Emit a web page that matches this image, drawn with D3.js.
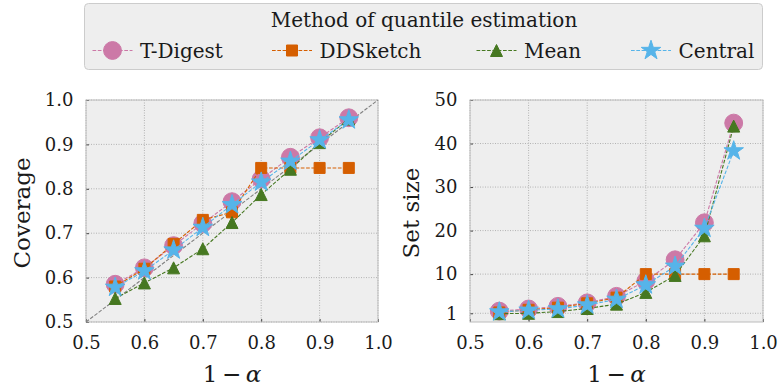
<!DOCTYPE html>
<html>
<head>
<meta charset="utf-8">
<script src="https://cdn.jsdelivr.net/npm/d3@7"></script>
<style>
  body { margin: 0; background: #fff; }
  text { font-family: "DejaVu Serif", serif; fill: #1a1a1a; }
</style>
</head>
<body>
<script>
// data
var alphas = [0.55, 0.6, 0.65, 0.7, 0.75, 0.8, 0.85, 0.9, 0.95];
var methods = ["T-Digest", "DDSketch", "Mean", "Central"];

var coverageTDigest = [0.585, 0.622, 0.672, 0.722, 0.771, 0.822, 0.871, 0.915, 0.960];
var coverageDDSketch = [0.580, 0.620, 0.676, 0.730, 0.747, 0.847, 0.847, 0.847, 0.847];
var coverageMean = [0.553, 0.588, 0.622, 0.665, 0.724, 0.787, 0.844, 0.904, 0.957];
var coverageCentral = [0.578, 0.615, 0.662, 0.713, 0.764, 0.815, 0.862, 0.910, 0.955];

var sizeTDigest = [1.5, 2.0, 2.6, 3.4, 4.9, 8.4, 13.3, 21.8, 44.7];
var sizeDDSketch = [1.2, 1.8, 2.3, 3.3, 4.6, 10.0, 10.0, 10.0, 10.0];
var sizeMean = [0.9, 1.0, 1.4, 2.1, 3.1, 5.8, 9.7, 18.8, 44.0];
var sizeCentral = [1.3, 1.7, 2.0, 2.9, 4.2, 7.5, 11.8, 20.5, 38.3];

var xTicks = [0.5, 0.6, 0.7, 0.8, 0.9, 1.0];
var covTicks = [0.5, 0.6, 0.7, 0.8, 0.9, 1.0];
var sizeTicks = [1, 10, 20, 30, 40, 50];

// matplotlib style "^" marker: as wide as it is tall
var symbolTriUp = {
  draw: function(context, size) {
    var h = Math.sqrt(size / 2);
    context.moveTo(0, -h);
    context.lineTo(h, h);
    context.lineTo(-h, h);
    context.closePath();
  }
};

var colors = ["#CC79A7", "#D55E00", "#467821", "#56B4E9"];
var symbols = [d3.symbolCircle, d3.symbolSquare, symbolTriUp, d3.symbolStar];
var symSizes = [250, 121, 72, 118];
var dash = "3.7,1.6";

var svg = d3.select("body").append("svg")
    .attr("width", 780)
    .attr("height", 389);

function drawPanel(left, right, yDomain, yTicks, yFmt, series, yLabel, labelX, diag) {
  var top = 100, bottom = 322;
  var x = d3.scaleLinear().domain([0.5, 1.0]).range([left, right]);
  var y = d3.scaleLinear().domain(yDomain).range([bottom, top]);

  svg.append("rect")
    .attr("x", left).attr("y", top)
    .attr("width", right - left).attr("height", bottom - top)
    .attr("fill", "#eeeeee");

  // grid
  svg.append("g").selectAll("line").data(xTicks).enter().append("line")
    .attr("x1", d => x(d)).attr("x2", d => x(d))
    .attr("y1", top).attr("y2", bottom)
    .attr("stroke", "#b2b2b2").attr("stroke-dasharray", "1,1.5");
  svg.append("g").selectAll("line").data(yTicks).enter().append("line")
    .attr("x1", left).attr("x2", right)
    .attr("y1", d => y(d)).attr("y2", d => y(d))
    .attr("stroke", "#b2b2b2").attr("stroke-dasharray", "1,1.5");

  // axes
  var xAxis = svg.append("g").attr("transform", "translate(0," + bottom + ")")
    .call(d3.axisBottom(x).tickValues(xTicks).tickFormat(d3.format(".1f")).tickSizeInner(-3).tickSizeOuter(0).tickPadding(14));
  var yAxis = svg.append("g").attr("transform", "translate(" + left + ",0)")
    .call(d3.axisLeft(y).tickValues(yTicks).tickFormat(yFmt).tickSizeInner(-3).tickSizeOuter(0).tickPadding(12.5));
  [xAxis, yAxis].forEach(function(a) {
    a.select(".domain").remove();
    a.selectAll(".tick line").attr("stroke", "#444");
    a.selectAll(".tick text").attr("font-size", "18px").attr("fill", "#1a1a1a")
      .style("font-family", "DejaVu Serif");
  });

  svg.append("rect")
    .attr("x", left).attr("y", top)
    .attr("width", right - left).attr("height", bottom - top)
    .attr("fill", "none").attr("stroke", "#bcbcbc").attr("stroke-width", 1);

  if (diag) {
    svg.append("line")
      .attr("x1", x(0.5)).attr("y1", y(0.5)).attr("x2", x(1.0)).attr("y2", y(1.0))
      .attr("stroke", "#808080").attr("stroke-width", 1.1).attr("stroke-dasharray", dash);
  }

  var line = d3.line().x((d, i) => x(alphas[i])).y(d => y(d));
  series.forEach(function(vals, k) {
    var g = svg.append("g");
    g.append("path").datum(vals)
      .attr("d", line).attr("fill", "none")
      .attr("stroke", colors[k]).attr("stroke-width", 1.1)
      .attr("stroke-dasharray", dash);
    g.selectAll("path.m").data(vals).enter().append("path")
      .attr("class", "m")
      .attr("d", d3.symbol().type(symbols[k]).size(symSizes[k]))
      .attr("transform", (d, i) => "translate(" + x(alphas[i]) + "," + y(d) + ")")
      .attr("fill", colors[k])
      .attr("stroke", colors[k]).attr("stroke-width", 1);
  });

  // labels
  var lx = svg.append("text")
    .attr("x", (left + right) / 2).attr("y", 382)
    .attr("text-anchor", "middle").attr("font-size", "23px");
  lx.append("tspan").text("1\u2009");
  lx.append("tspan").text("\u2212").attr("font-family", "DejaVu Sans");
  lx.append("tspan").text("\u2009\u03b1").attr("font-style", "italic");

  svg.append("text")
    .attr("transform", "translate(" + labelX + "," + ((top + bottom) / 2 + 2) + ") rotate(-90)")
    .attr("text-anchor", "middle").attr("font-size", "23px")
    .text(yLabel);
}

drawPanel(86, 378, [0.5, 1.0], covTicks, d3.format(".1f"),
  [coverageTDigest, coverageDDSketch, coverageMean, coverageCentral], "Coverage", 29.5, true);
drawPanel(470, 763, [-1, 50], sizeTicks, d3.format("d"),
  [sizeTDigest, sizeDDSketch, sizeMean, sizeCentral], "Set size", 419, false);

// legend
var legend = svg.append("g");
legend.append("rect")
  .attr("x", 84.5).attr("y", 3.5).attr("width", 678).attr("height", 66)
  .attr("rx", 4).attr("fill", "#eeeeee").attr("stroke", "#cccccc");
legend.append("text")
  .attr("x", 424).attr("y", 27).attr("text-anchor", "middle")
  .attr("font-size", "20px").text("Method of quantile estimation");
var legX = [112.5, 292, 496.5, 651];
methods.forEach(function(m, k) {
  var cx = legX[k];
  legend.append("line")
    .attr("x1", cx - 20).attr("x2", cx + 20).attr("y1", 50.5).attr("y2", 50.5)
    .attr("stroke", colors[k]).attr("stroke-width", 1.1).attr("stroke-dasharray", dash);
  legend.append("path")
    .attr("d", d3.symbol().type(symbols[k]).size(symSizes[k]))
    .attr("transform", "translate(" + cx + ",50.5)")
    .attr("fill", colors[k])
    .attr("stroke", colors[k]).attr("stroke-width", 1);
  legend.append("text")
    .attr("x", cx + 27.5).attr("y", 57.5)
    .attr("font-size", "20px").text(m);
});
</script>
</body>
</html>
